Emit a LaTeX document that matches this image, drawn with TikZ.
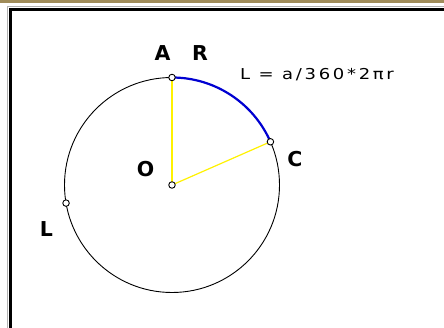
\documentclass[tikz,border=0pt]{standalone}
\usepackage{fontspec}
\usetikzlibrary{calc}
\setmainfont{DejaVu Sans}
\newfontfamily\formfont[LetterSpace=15]{DejaVu Sans}
\definecolor{stripbrown}{RGB}{160,140,90}
\definecolor{arcblue}{RGB}{0,0,210}
\begin{document}
\begin{tikzpicture}[x=1pt,y=1pt,
  lbl/.style={font=\fontsize{20.5}{21}\selectfont\bfseries, inner sep=0pt},
  pt/.style={circle, draw=black, fill=white, line width=0.9pt, minimum size=6.5pt, inner sep=0pt},
  radius line/.style={yellow, line width=1.2pt},
  framebar/.style={black, line width=3pt}]
\useasboundingbox (0,0) rectangle (444,328);
\fill[white] (0,0) rectangle (444,328);
% top strip and frame
\fill[stripbrown] (0,324.5) rectangle (444,328);
\draw[gray!60, line width=1.2pt] (7.5,0) -- (7.5,321.5) -- (444,321.5);
\draw[framebar] (10.5,0) -- (10.5,318.5) -- (444,318.5);
% geometry
\coordinate (O) at (172,143);
\coordinate (A) at ($(O)+(90:107.5)$);
\coordinate (C) at ($(O)+(23.7:107.5)$);
\coordinate (L) at ($(O)+(189.7:107.5)$);
\draw[black, line width=0.9pt] (O) circle[radius=107.5];
\draw[arcblue, line width=2.2pt] (A) arc[start angle=90, end angle=23.7, radius=107.5];
\draw[radius line] (O) -- (A);
\draw[radius line] (O) -- (C);
\node[pt] (Op) at (O) {};
\node[pt] (Ap) at (A) {};
\node[pt] (Cp) at (C) {};
\node[pt] (Lp) at (L) {};
% labels
\node[lbl] (la) at (162.5,274.5) {A};
\node[lbl] (lr) at (200,275) {R};
\node[lbl] (lo) at (145.5,158.5) {O};
\node[lbl] (lc) at (295,168.5) {C};
\node[lbl] (ll) at (46.5,98.5) {L};
\node[anchor=west, inner sep=0pt, font=\formfont\fontsize{15}{16}\selectfont] (formula) at (240,253) {\scalebox{1.2}[1]{L = a/360*2πr}};
\end{tikzpicture}
\end{document}
